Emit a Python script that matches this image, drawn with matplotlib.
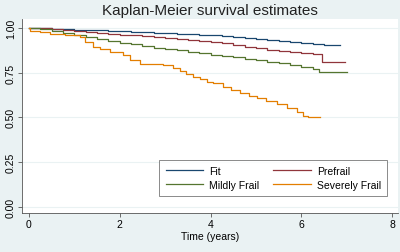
import matplotlib
matplotlib.use("Agg")
import matplotlib.pyplot as plt

plt.rcParams["font.family"] = ["Liberation Sans", "DejaVu Sans"]

BG = "#eaf2f3"

# Kaplan-Meier step curves (time in years, survival)
fit_t = [0, 0.25, 0.5, 0.75, 1.0, 1.25, 1.5, 1.75, 2.0, 2.25, 2.5, 2.75, 3.0, 3.25, 3.5, 3.75,
         4.0, 4.25, 4.5, 4.75, 5.0, 5.25, 5.5, 5.75, 6.0, 6.25, 6.5, 6.85]
fit_s = [1.0, 0.998, 0.996, 0.993, 0.99, 0.988, 0.986, 0.984, 0.981, 0.978, 0.976, 0.973, 0.97, 0.968,
         0.965, 0.962, 0.958, 0.953, 0.948, 0.943, 0.938, 0.933, 0.928, 0.922, 0.916, 0.91, 0.906, 0.906]

pre_t = [0, 0.25, 0.5, 0.75, 1.0, 1.25, 1.5, 1.75, 2.0, 2.25, 2.5, 2.75, 3.0, 3.25, 3.5, 3.75,
         4.0, 4.25, 4.5, 4.75, 5.0, 5.25, 5.5, 5.75, 6.0, 6.25, 6.45, 6.96]
pre_s = [1.0, 0.997, 0.993, 0.989, 0.984, 0.978, 0.973, 0.968, 0.963, 0.958, 0.953, 0.948, 0.943, 0.938,
         0.933, 0.928, 0.922, 0.914, 0.906, 0.896, 0.887, 0.879, 0.872, 0.866, 0.859, 0.852, 0.812, 0.812]

mild_t = [0, 0.25, 0.5, 0.75, 1.0, 1.25, 1.5, 1.75, 2.0, 2.25, 2.5, 2.75, 3.0, 3.25, 3.5, 3.75,
          4.0, 4.25, 4.5, 4.75, 5.0, 5.25, 5.5, 5.75, 6.0, 6.25, 6.4, 7.0]
mild_s = [1.0, 0.992, 0.983, 0.973, 0.962, 0.952, 0.94, 0.929, 0.918, 0.908, 0.898, 0.89, 0.882, 0.874,
          0.866, 0.858, 0.85, 0.842, 0.835, 0.828, 0.82, 0.811, 0.802, 0.792, 0.781, 0.768, 0.755, 0.755]

sev_t = [0, 0.02, 0.24, 0.46, 0.8, 1.12, 1.23, 1.42, 1.56, 1.78, 2.08, 2.22, 2.44, 2.96, 3.18,
         3.33, 3.47, 3.62, 3.77, 3.92, 4.06, 4.28, 4.45, 4.65, 4.85, 5.02, 5.23, 5.46, 5.68,
         5.9, 6.04, 6.15, 6.42]
sev_s = [1.0, 0.985, 0.975, 0.965, 0.96, 0.95, 0.92, 0.895, 0.88, 0.865, 0.85, 0.82, 0.8, 0.79,
         0.775, 0.76, 0.742, 0.728, 0.715, 0.7, 0.69, 0.67, 0.652, 0.635, 0.622, 0.61, 0.59, 0.575,
         0.555, 0.53, 0.51, 0.5, 0.5]

groups = ["Fit", "Prefrail", "Mildly Frail", "Severely Frail"]
colors = ["#1a476f", "#90353b", "#55752f", "#e37e00"]
x_ticks = [0, 2, 4, 6, 8]
y_ticks = [0.0, 0.25, 0.5, 0.75, 1.0]

fig = plt.figure(figsize=(4, 2.53), dpi=100)
fig.patch.set_facecolor(BG)
ax = fig.add_axes([0.055, 0.154, 0.94, 0.767])
ax.set_facecolor("white")

lines = []
for (t, s), name, c in zip([(fit_t, fit_s), (pre_t, pre_s), (mild_t, mild_s), (sev_t, sev_s)],
                           groups, colors):
    ln, = ax.step(t, s, where="post", color=c, lw=0.9, label=name)
    lines.append(ln)

ax.set_xlim(-0.154, 8.13)
ax.set_ylim(-0.035, 1.05)
ax.set_xticks(x_ticks)
ax.set_yticks(y_ticks)
ax.set_yticklabels([f"{v:.2f}" for v in y_ticks], rotation=90, va="center")
ax.tick_params(labelsize=7.5, length=3, width=0.6, color="#555555", pad=1.5)
ax.grid(axis="y", color="#eaf2f3", lw=0.8)
ax.set_axisbelow(True)
for side in ["top", "right"]:
    ax.spines[side].set_visible(False)
for side in ["left", "bottom"]:
    ax.spines[side].set_color("#555555")
    ax.spines[side].set_linewidth(0.6)
ax.set_xlabel("Time (years)", fontsize=7.5, labelpad=1)

# row-wise order like Stata: Fit, Prefrail / Mildly Frail, Severely Frail
order = [0, 2, 1, 3]
leg = ax.legend([lines[i] for i in order], [groups[i] for i in order], ncol=2,
                loc="lower right", bbox_to_anchor=(0.985, 0.06), fontsize=7.5,
                frameon=True, fancybox=False, edgecolor="#555555", handlelength=3.6,
                handletextpad=0.6, columnspacing=1.3, borderpad=0.6, labelspacing=0.4)
leg.get_frame().set_linewidth(0.6)

fig.text(0.525, 0.955, "Kaplan-Meier survival estimates", ha="center", va="center",
         fontsize=11, color="#222222")

fig.savefig("out.png", dpi=100, facecolor=BG)
